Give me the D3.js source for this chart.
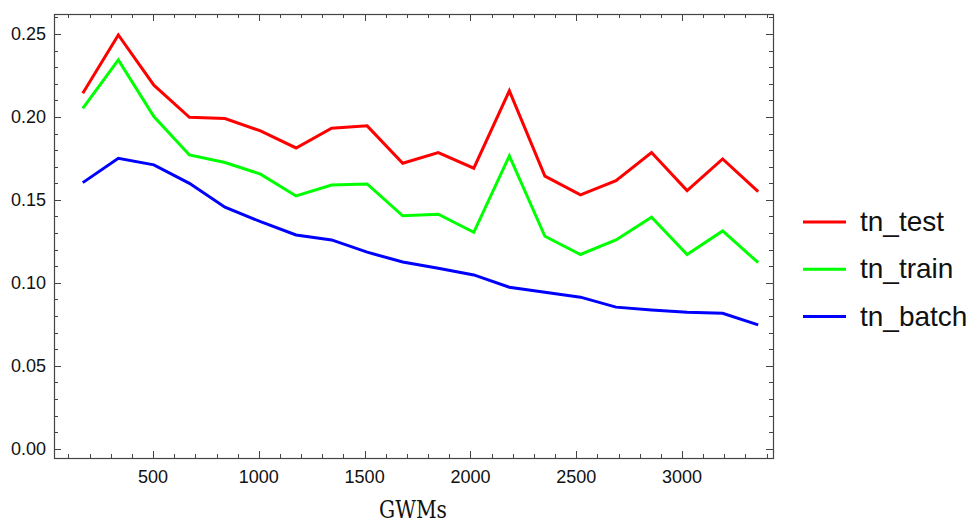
<!DOCTYPE html>
<html>
<head>
<meta charset="utf-8">
<script src="https://cdn.jsdelivr.net/npm/d3@7"></script>
<style>
  body { margin: 0; background: #fff; }
  svg { display: block; }
</style>
</head>
<body>
<svg id="chart" width="974" height="523"></svg>
<script>
// data
const gwms = [168, 336, 504, 672, 840, 1008, 1176, 1344, 1512, 1680,
  1848, 2016, 2184, 2352, 2520, 2688, 2856, 3024, 3192, 3360];
const tnTest = [0.2143, 0.2494, 0.2191, 0.1998, 0.1990, 0.1916, 0.1813, 0.1932, 0.1946, 0.1721,
  0.1785, 0.1691, 0.2157, 0.1643, 0.1530, 0.1616, 0.1785, 0.1556, 0.1747, 0.1550];
const tnTrain = [0.2052, 0.2343, 0.2002, 0.1771, 0.1725, 0.1655, 0.1524, 0.1590, 0.1596, 0.1404,
  0.1414, 0.1305, 0.1765, 0.1281, 0.1171, 0.1259, 0.1396, 0.1171, 0.1313, 0.1122];
const tnBatch = [0.1604, 0.1751, 0.1711, 0.1600, 0.1456, 0.1369, 0.1289, 0.1259, 0.1185, 0.1126,
  0.1088, 0.1048, 0.0974, 0.0944, 0.0914, 0.0854, 0.0837, 0.0823, 0.0817, 0.0747];
const seriesNames = ['tn_test', 'tn_train', 'tn_batch'];
const seriesColors = ['#ff0000', '#00ff00', '#0000ff'];
const xTickLabels = [500, 1000, 1500, 2000, 2500, 3000];
const yTickLabels = [0.00, 0.05, 0.10, 0.15, 0.20, 0.25];

let svg = d3.select('#chart');

let frame = { left: 54, right: 773, top: 14, bottom: 458 };

let x = d3.scaleLinear()
  .domain([32, 3430])
  .range([frame.left, frame.right]);

let y = d3.scaleLinear()
  .domain([-0.0055, 0.262])
  .range([frame.bottom, frame.top]);

const frameColor = '#444';
const labelFont = '"Liberation Sans", Arial, sans-serif';

// minor / major ticks on all four sides, pointing in
let xMinor = d3.range(100, 3430, 100);
let yMinor = d3.range(0, 0.262, 0.01).map(d => +d.toFixed(2));

let ticks = svg.append('g').attr('stroke', frameColor).attr('stroke-width', 1);

xMinor.forEach(v => {
  let len = (v % 500 === 0) ? 7 : 4;
  let px = Math.round(x(v)) + 0.5;
  ticks.append('line').attr('x1', px).attr('x2', px)
    .attr('y1', frame.bottom).attr('y2', frame.bottom - len);
  ticks.append('line').attr('x1', px).attr('x2', px)
    .attr('y1', frame.top).attr('y2', frame.top + len);
});

yMinor.forEach(v => {
  let major = Math.round(v * 100) % 5 === 0;
  let len = major ? 7 : 4;
  let py = Math.round(y(v)) + 0.5;
  ticks.append('line').attr('x1', frame.left).attr('x2', frame.left + len)
    .attr('y1', py).attr('y2', py);
  ticks.append('line').attr('x1', frame.right).attr('x2', frame.right - len)
    .attr('y1', py).attr('y2', py);
});

// frame
svg.append('rect')
  .attr('x', frame.left + 0.5)
  .attr('y', frame.top + 0.5)
  .attr('width', frame.right - frame.left)
  .attr('height', frame.bottom - frame.top)
  .attr('fill', 'none')
  .attr('stroke', frameColor)
  .attr('stroke-width', 1.2);

// tick labels
svg.append('g').selectAll('text')
  .data(xTickLabels)
  .enter()
  .append('text')
  .attr('x', d => x(d))
  .attr('y', frame.bottom + 25)
  .attr('text-anchor', 'middle')
  .style('font-family', labelFont)
  .style('font-size', '18px')
  .attr('fill', '#111')
  .text(d => d);

svg.append('g').selectAll('text')
  .data(yTickLabels)
  .enter()
  .append('text')
  .attr('x', frame.left - 8)
  .attr('y', d => y(d) + 6.5)
  .attr('text-anchor', 'end')
  .style('font-family', labelFont)
  .style('font-size', '18px')
  .attr('fill', '#111')
  .text(d => d.toFixed(2));

// axis title
svg.append('text')
  .attr('x', 413)
  .attr('y', 518)
  .attr('text-anchor', 'middle')
  .attr('textLength', 68)
  .attr('lengthAdjust', 'spacingAndGlyphs')
  .style('font-family', '"DejaVu Serif", "Courier New", serif')
  .style('font-size', '25px')
  .attr('fill', '#111')
  .text('GWMs');

// lines
let allSeries = [tnTest, tnTrain, tnBatch];
let line = d3.line()
  .x((d, i) => x(gwms[i]))
  .y(d => y(d));

svg.append('g').selectAll('path')
  .data(allSeries)
  .enter()
  .append('path')
  .attr('d', d => line(d))
  .attr('fill', 'none')
  .attr('stroke', (d, i) => seriesColors[i])
  .attr('stroke-width', 3)
  .attr('stroke-linejoin', 'miter');

// legend
let legend = svg.append('g').selectAll('g')
  .data(seriesNames)
  .enter()
  .append('g')
  .attr('transform', (d, i) => `translate(803, ${222 + i * 47.3})`);

legend.append('line')
  .attr('x1', 0).attr('x2', 43)
  .attr('y1', 0).attr('y2', 0)
  .attr('stroke', (d, i) => seriesColors[i])
  .attr('stroke-width', 3);

legend.append('text')
  .attr('x', 57)
  .attr('y', 9)
  .style('font-family', labelFont)
  .style('font-size', '28px')
  .attr('fill', '#111')
  .text(d => d);
</script>
</body>
</html>
